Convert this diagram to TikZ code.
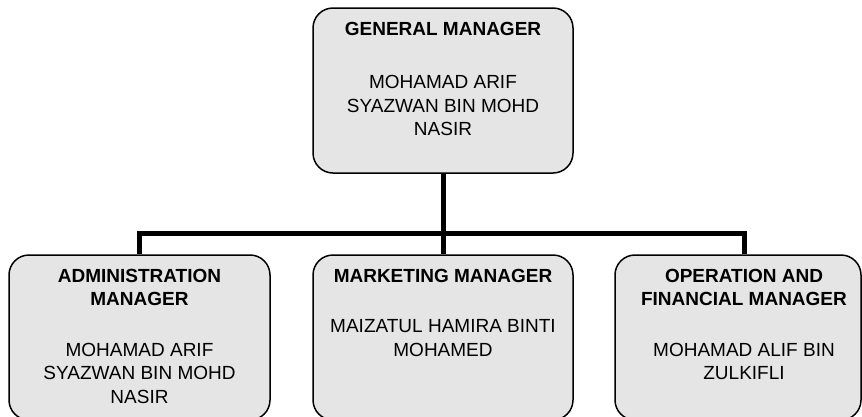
\documentclass[tikz,border=0pt]{standalone}
\usepackage{fontspec}
\setmainfont{Liberation Sans}
\begin{document}
\begin{tikzpicture}[x=1pt, y=-1pt,
  orgbox/.style={draw=black, line width=1.5pt, fill=black!10, rounded corners=20pt,
    minimum height=165pt, inner sep=0pt},
  boxtext/.style={anchor=north, align=center, inner sep=0pt,
    font=\fontsize{19}{23.5}\selectfont},
  link/.style={draw=black, line width=5pt, line join=miter}]
  \path[use as bounding box] (0,0) rectangle (862,416);
  \clip (0,0) rectangle (862,416);

  % boxes
  \node[orgbox, minimum width=260pt] (gm)  at (443,90.5) {};
  \node[orgbox, minimum width=261pt] (adm) at (139.5,337.5) {};
  \node[orgbox, minimum width=260pt] (mkt) at (443,337.5) {};
  \node[orgbox, minimum width=246pt] (opf) at (738,337.5) {};

  % connectors
  \coordinate (jn) at (443,233);
  \coordinate (opfin) at ([xshift=6pt]opf.north);
  \draw[link] (gm.south) -- (jn);
  \draw[link] (adm.north) |- (jn) -| (opfin);
  \draw[link] (jn) -- (mkt.north);

  % texts
  \node[boxtext] (gmt) at ([yshift=-14.5pt]gm.north)
    {\textbf{GENERAL MANAGER}\\[30pt]MOHAMAD ARIF\\SYAZWAN BIN MOHD\\NASIR};
  \node[boxtext] (admt) at ([yshift=-14.5pt]adm.north)
    {\textbf{ADMINISTRATION}\\\textbf{MANAGER}\\[27pt]MOHAMAD ARIF\\SYAZWAN BIN MOHD\\NASIR};
  \node[boxtext] (mktt) at ([yshift=-14.5pt]mkt.north)
    {\textbf{MARKETING MANAGER}\\[27pt]MAIZATUL HAMIRA BINTI\\MOHAMED};
  \node[boxtext] (opft) at ([yshift=-14.5pt]opfin)
    {\textbf{OPERATION AND}\\\textbf{FINANCIAL MANAGER}\\[27pt]MOHAMAD ALIF BIN\\ZULKIFLI};
\end{tikzpicture}
\end{document}
